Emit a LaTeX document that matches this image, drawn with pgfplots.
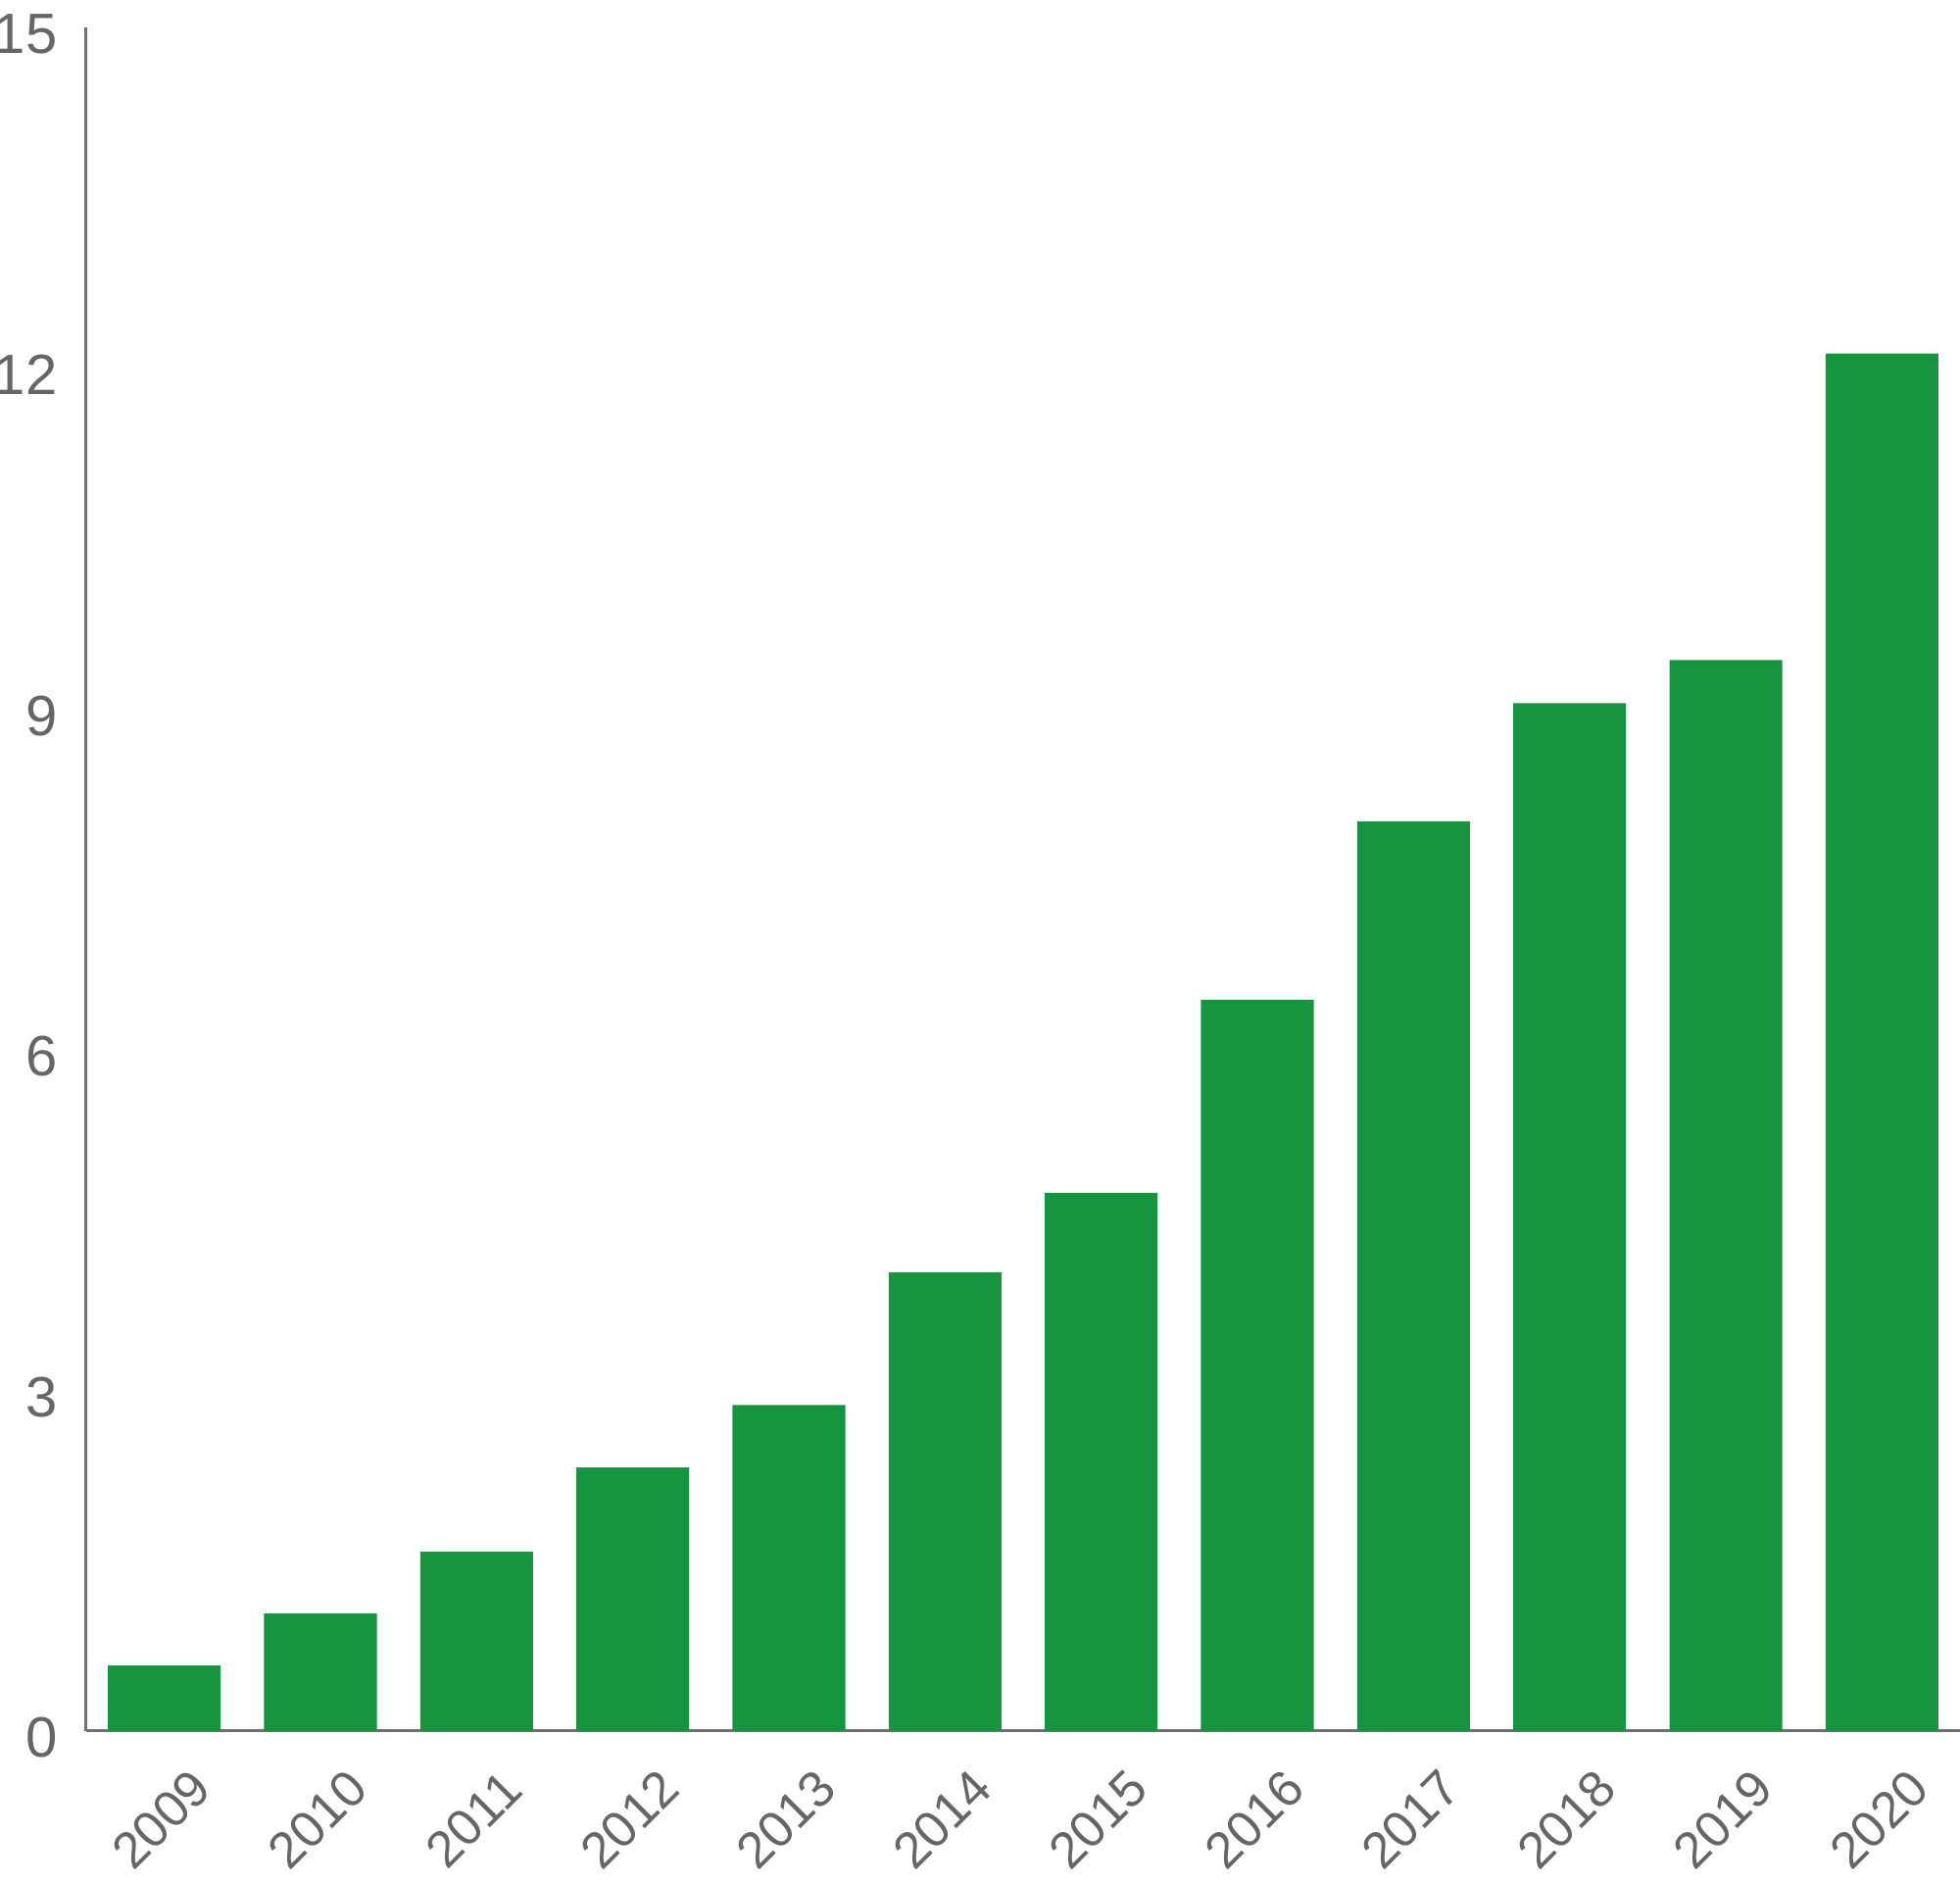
\documentclass[border=0pt]{standalone}
\usepackage{pgfplots}
\pgfplotsset{compat=1.18}
\usepackage{fontspec}
\setmainfont{Liberation Sans}
\definecolor{bargreen}{HTML}{179440}
\definecolor{axgray}{HTML}{707070}
\definecolor{txtgray}{HTML}{666666}
\begin{document}
\begin{tikzpicture}
\begin{axis}[
  name=ax,
  scale only axis,
  width=478pt, height=434.5pt,
  xmin=-0.5, xmax=11.5, ymin=0, ymax=15,
  axis lines=left,
  axis line style={axgray, line width=0.75pt, -},
  major tick length=0pt,
  tick style={draw=none},
  ytick={0,3,6,9,12,15},
  xtick={0,1,2,3,4,5,6,7,8,9,10,11},
  xticklabels={2009,2010,2011,2012,2013,2014,2015,2016,2017,2018,2019,2020},
  /pgf/number format/assume math mode=true,
  yticklabel style={font=\fontsize{14.5pt}{17pt}\selectfont, text=txtgray, inner sep=0pt, anchor=east, xshift=-7.2pt, yshift=-1.75pt},
  xticklabel style={font=\fontsize{13pt}{16pt}\selectfont, text=txtgray, inner sep=0pt, yshift=-22.5pt, xshift=-0.75pt, rotate=45, anchor=center},
  ybar, bar width=0.722,
  clip=false,
]
\addplot[fill=bargreen, draw=none] coordinates {
  (0,0.578) (1,1.036) (2,1.58) (3,2.32) (4,2.87) (5,4.04)
  (6,4.74) (7,6.44) (8,8.01) (9,9.05) (10,9.43) (11,12.13)
};
\end{axis}
\pgfresetboundingbox
\path[use as bounding box] ([xshift=-22pt,yshift=-39pt]ax.south west) rectangle ([yshift=7pt]ax.north east);
\end{tikzpicture}
\end{document}
